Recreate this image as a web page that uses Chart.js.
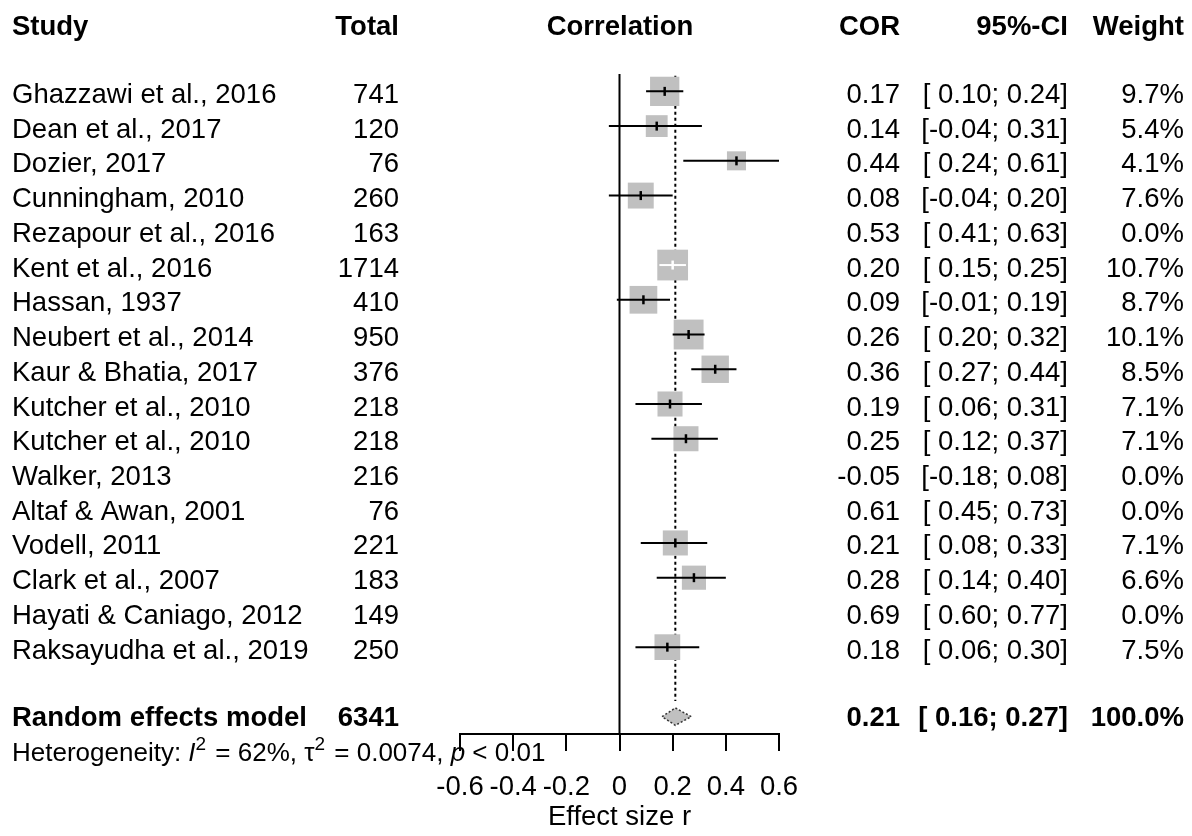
<!DOCTYPE html>
<html>
<head>
<meta charset="utf-8">
<script src="https://cdn.jsdelivr.net/npm/chart.js@4/dist/chart.umd.min.js"></script>
<style>
  html, body { margin: 0; padding: 0; background: #fff; }
  #wrap { width: 1192px; height: 836px; position: relative; }
  canvas { display: block; }
</style>
</head>
<body>
<div id="wrap"><canvas id="c" width="1192" height="836"></canvas></div>
<script>
// ---------------- data ----------------
const studies = ["Ghazzawi et al., 2016","Dean et al., 2017","Dozier, 2017","Cunningham, 2010",
  "Rezapour et al., 2016","Kent et al., 2016","Hassan, 1937","Neubert et al., 2014",
  "Kaur & Bhatia, 2017","Kutcher et al., 2010","Kutcher et al., 2010","Walker, 2013",
  "Altaf & Awan, 2001","Vodell, 2011","Clark et al., 2007","Hayati & Caniago, 2012",
  "Raksayudha et al., 2019"];
const totals  = [741,120,76,260,163,1714,410,950,376,218,218,216,76,221,183,149,250];
const cor     = [0.17,0.14,0.44,0.08,0.53,0.20,0.09,0.26,0.36,0.19,0.25,-0.05,0.61,0.21,0.28,0.69,0.18];
const ciLow   = [0.10,-0.04,0.24,-0.04,0.41,0.15,-0.01,0.20,0.27,0.06,0.12,-0.18,0.45,0.08,0.14,0.60,0.06];
const ciHigh  = [0.24,0.31,0.61,0.20,0.63,0.25,0.19,0.32,0.44,0.31,0.37,0.08,0.73,0.33,0.40,0.77,0.30];
const weights = [9.7,5.4,4.1,7.6,0.0,10.7,8.7,10.1,8.5,7.1,7.1,0.0,0.0,7.1,6.6,0.0,7.5];

const pooledLabel = "Random effects model";
const pooledTotal = 6341;
const pooledCor = 0.21, pooledLow = 0.16, pooledHigh = 0.27, pooledWeight = 100.0;
const hetI2 = "62%", hetTau2 = "0.0074", hetP = "< 0.01";

const tickValues = [-0.6,-0.4,-0.2,0,0.2,0.4,0.6];
const tickLabels = ["-0.6","-0.4","-0.2","0","0.2","0.4","0.6"];
const axisTitle = "Effect size r";
const headers = {study:"Study", total:"Total", plot:"Correlation", cor:"COR", ci:"95%-CI", weight:"Weight"};

// ---------------- layout / style ----------------
const FONT = '"Liberation Sans", Arial, Helvetica, sans-serif';
const FS = 27.5;
const GRAY = '#c0c0c0';
const BOX_K = 9.4;                 // px per sqrt(weight %)
const pooledRow = studies.length + 1;
const yMin = -0.5, yMax = pooledRow + 0.5;

const boxSide = w => BOX_K * Math.sqrt(w);
const shown = studies.map((s, i) => i).filter(i => weights[i] > 0);

function ciInside(chart, i) {
  const xs = chart.scales.x;
  const w = xs.getPixelForValue(ciHigh[i]) - xs.getPixelForValue(ciLow[i]);
  return w < boxSide(weights[i]);
}

const datasets = [];
// vertical null-effect line
datasets.push({type:'line', data:[{x:0,y:yMin},{x:0,y:yMax}], borderColor:'#000', borderWidth:2,
  pointRadius:0, fill:false, order:10});
// pooled estimate dotted line
datasets.push({type:'line', data:[{x:pooledCor,y:yMin+0.05},{x:pooledCor,y:pooledRow-0.45}], borderColor:'#000',
  borderWidth:2, borderDash:[3,3], pointRadius:0, fill:false, order:9});
// squares
datasets.push({type:'scatter', data: shown.map(i => ({x:cor[i], y:i})), pointStyle:'rect',
  pointRadius: shown.map(i => boxSide(weights[i]) / Math.SQRT2), backgroundColor:GRAY,
  borderWidth:0, pointBorderWidth:0, order:5});
// confidence interval lines
shown.forEach(i => {
  datasets.push({type:'line', data:[{x:ciLow[i],y:i},{x:ciHigh[i],y:i}],
    borderColor: ctx => ciInside(ctx.chart, i) ? '#fff' : '#000',
    borderWidth:2, pointRadius:0, fill:false, order:3});
});
// estimate ticks
datasets.push({type:'scatter', data: shown.map(i => ({x:cor[i], y:i})), pointStyle:'line', rotation:90,
  pointRadius:4.5, pointBorderWidth:2.5,
  pointBorderColor: ctx => (ctx.dataIndex !== undefined && ciInside(ctx.chart, shown[ctx.dataIndex])) ? '#fff' : '#000',
  order:1});
// pooled diamond
const dh = 0.25;
datasets.push({type:'line', data:[{x:pooledLow,y:pooledRow},{x:pooledCor,y:pooledRow-dh},
  {x:pooledHigh,y:pooledRow},{x:pooledCor,y:pooledRow+dh},{x:pooledLow,y:pooledRow}],
  borderColor:'#333', borderWidth:1.5, borderDash:[2,2], backgroundColor:GRAY, fill:'shape',
  tension:0, pointRadius:0, order:2});

const fmt2 = v => v.toFixed(2);
const fmtCI = (lo, hi) => '[' + (lo < 0 ? '' : ' ') + lo.toFixed(2) + ';' + (hi < 0 ? '' : ' ') + hi.toFixed(2) + ']';
const fmtW = w => w.toFixed(1) + '%';

const COL = {study:12, total:399, plot:620, cor:900, ci:1068, weight:1184};

const textPlugin = {
  id:'forestText',
  afterDraw(chart) {
    const ctx = chart.ctx;
    const ys = chart.scales.y;
    ctx.save();
    ctx.fillStyle = '#000';
    ctx.textBaseline = 'alphabetic';
    const put = (t, x, y, align, bold) => {
      ctx.font = (bold ? 'bold ' : '') + FS + 'px ' + FONT;
      ctx.textAlign = align;
      ctx.fillText(t, x, y);
    };
    // headers
    const hy = ys.getPixelForValue(-2) + 13.5;
    put(headers.study, COL.study, hy, 'left', true);
    put(headers.total, COL.total, hy, 'right', true);
    put(headers.plot, COL.plot, hy, 'center', true);
    put(headers.cor, COL.cor, hy, 'right', true);
    put(headers.ci, COL.ci, hy, 'right', true);
    put(headers.weight, COL.weight, hy, 'right', true);
    // study rows
    studies.forEach((s, i) => {
      const y = ys.getPixelForValue(i) + 11.5;
      put(s, COL.study, y, 'left', false);
      put(String(totals[i]), COL.total, y, 'right', false);
      put(fmt2(cor[i]), COL.cor, y, 'right', false);
      put(fmtCI(ciLow[i], ciHigh[i]), COL.ci, y, 'right', false);
      put(fmtW(weights[i]), COL.weight, y, 'right', false);
    });
    // pooled row
    const py = ys.getPixelForValue(pooledRow) + 9;
    put(pooledLabel, COL.study, py, 'left', true);
    put(String(pooledTotal), COL.total, py, 'right', true);
    put(fmt2(pooledCor), COL.cor, py, 'right', true);
    put(fmtCI(pooledLow, pooledHigh), COL.ci, py, 'right', true);
    put(fmtW(pooledWeight), COL.weight, py, 'right', true);
    // heterogeneity
    const HF = 26;
    const SF = Math.round(HF * 0.72);
    const segs = [
      {t:'Heterogeneity: ', f:HF+'px '+FONT},
      {t:'I', f:'italic '+HF+'px '+FONT},
      {t:'2', f:SF+'px '+FONT, sup:true},
      {t:' = ' + hetI2 + ', ', f:HF+'px '+FONT},
      {t:'\u03C4', f:HF+'px '+FONT},
      {t:'2', f:SF+'px '+FONT, sup:true},
      {t:' = ' + hetTau2 + ', ', f:HF+'px '+FONT},
      {t:'p', f:'italic '+HF+'px '+FONT},
      {t:' ' + hetP, f:HF+'px '+FONT}
    ];
    let x = COL.study;
    const hb = ys.getPixelForValue(pooledRow) + 44.5;
    ctx.textAlign = 'left';
    segs.forEach(sg => {
      ctx.font = sg.f;
      ctx.fillText(sg.t, x, sg.sup ? hb - 11 : hb);
      x += ctx.measureText(sg.t).width + (sg.sup ? 2 : 0);
    });
    ctx.restore();
  }
};

new Chart(document.getElementById('c'), {
  type:'scatter',
  data:{datasets},
  options:{
    responsive:false, devicePixelRatio:1, animation:false, events:[],
    layout:{padding:{left:460, right:413, top:74, bottom:0}},
    plugins:{legend:{display:false}, tooltip:{enabled:false}},
    scales:{
      x:{type:'linear', min:tickValues[0], max:tickValues[tickValues.length-1],
        afterBuildTicks: s => { s.ticks = tickValues.map(v => ({value:v})); },
        afterFit: s => { s.height = 102; },
        ticks:{autoSkip:false, minRotation:0, maxRotation:0, padding:20, color:'#000',
          font:{family:FONT, size:FS}, callback:(v, idx) => tickLabels[idx]},
        grid:{display:true, drawOnChartArea:false, drawTicks:true, tickLength:17, color:'#000', lineWidth:2},
        border:{display:true, color:'#000', width:2},
        title:{display:true, text:axisTitle, color:'#000', font:{family:FONT, size:FS}, padding:{top:0, bottom:2}}
      },
      y:{type:'linear', min:yMin, max:yMax, reverse:true, display:false}
    }
  },
  plugins:[textPlugin]
});
</script>
</body>
</html>
